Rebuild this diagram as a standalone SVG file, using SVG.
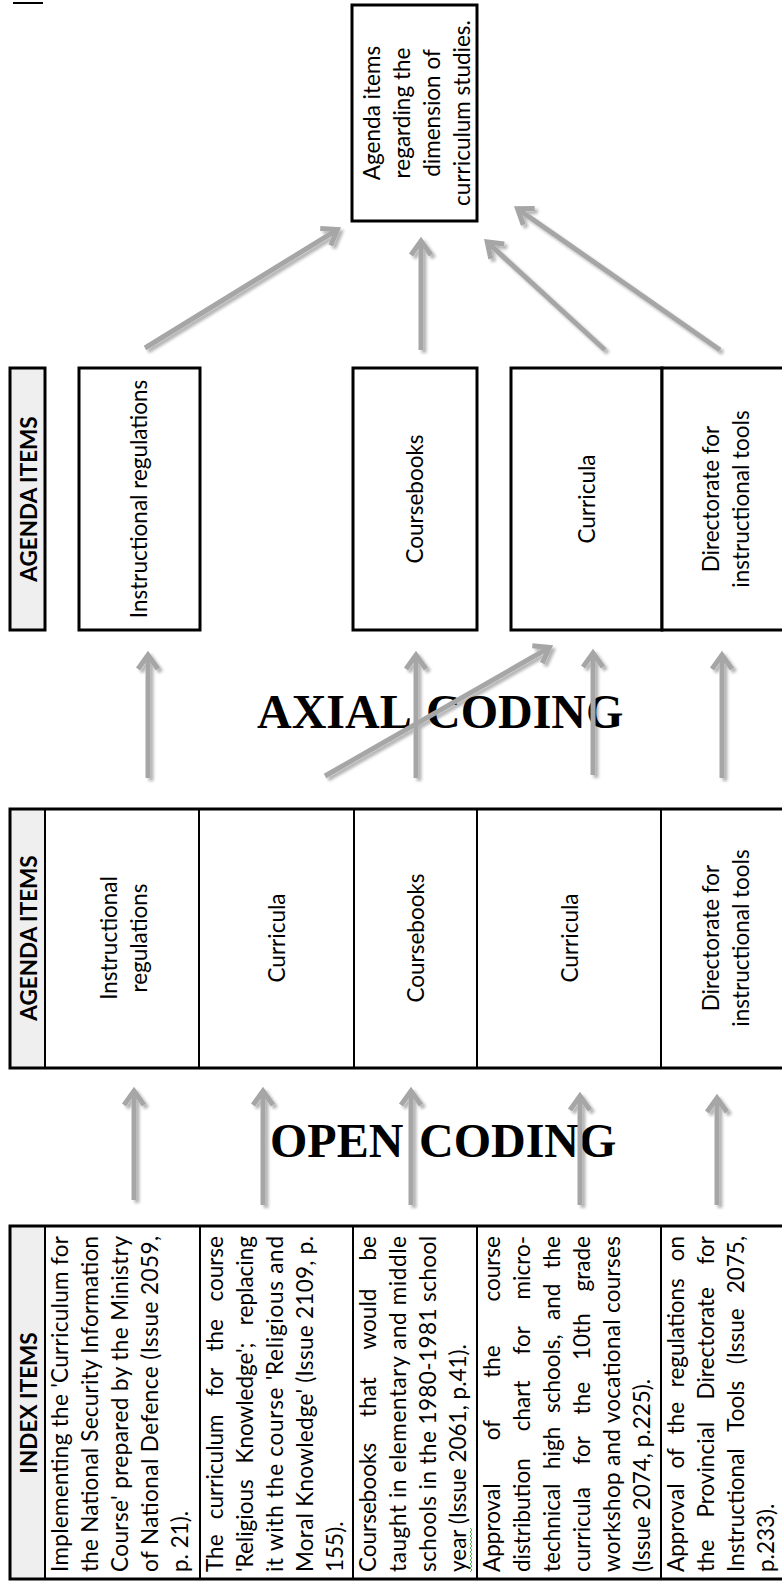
<svg xmlns="http://www.w3.org/2000/svg" width="782" height="1581" viewBox="0 0 782 1581">
<style>
.cell{fill:#ffffff;stroke:#000000;stroke-width:2}
.hdr{fill:#efefef;stroke:#000000;stroke-width:2}
.outer{fill:none;stroke:#000000;stroke-width:3}
.t{font-family:Lato,'Liberation Sans',Arial,sans-serif;font-size:22.5px;fill:#000000}
.b{font-weight:bold}
.m{text-anchor:middle}
.e{text-anchor:end}
.big{font-family:'Liberation Serif','Times New Roman',serif;font-weight:bold;font-size:48px;fill:#000000}
.arr{stroke:#a6a6a6;stroke-width:5;fill:none;marker-end:url(#ah)}
</style>
<defs>
<marker id="ah" markerUnits="userSpaceOnUse" viewBox="-20 -15 26 30" refX="0" refY="0" markerWidth="26" markerHeight="30" orient="auto" overflow="visible">
<path d="M-14,-10 L0,0 L-14,10" fill="none" stroke="#a6a6a6" stroke-width="5" stroke-linejoin="miter"/>
</marker>
<filter id="sh" filterUnits="userSpaceOnUse" x="0" y="0" width="782" height="1581">
<feGaussianBlur in="SourceAlpha" stdDeviation="1.8"/>
<feOffset dx="2.5" dy="2.5"/>
<feComponentTransfer><feFuncA type="linear" slope="0.3"/></feComponentTransfer>
<feMerge><feMergeNode/><feMergeNode in="SourceGraphic"/></feMerge>
</filter>
</defs>
<rect x="0" y="0" width="782" height="1581" fill="#ffffff"/>
<line x1="13" y1="3" x2="43" y2="3" stroke="#000000" stroke-width="2"/>

<!-- top node -->
<g id="n-dimension">
<rect class="cell" x="352" y="5" width="125" height="216" style="stroke-width:3"/>
<text class="t m" transform="translate(380,113) rotate(-90)">Agenda items</text>
<text class="t m" transform="translate(410,113) rotate(-90)">regarding the</text>
<text class="t m" transform="translate(440,113) rotate(-90)">dimension of</text>
<text class="t m" transform="translate(470,113) rotate(-90)">curriculum studies.</text>
</g>

<!-- axial coded agenda items -->
<g id="n-axial-header">
<rect class="hdr" x="10" y="368" width="35" height="262" style="stroke-width:3"/>
<text class="t b m" transform="translate(36.5,499) rotate(-90)">AGENDA ITEMS</text>
</g>
<g id="n-axial-instr">
<rect class="cell" x="79" y="368" width="121" height="262" style="stroke-width:3"/>
<text class="t m" transform="translate(147,499) rotate(-90)">Instructional regulations</text>
</g>
<g id="n-axial-course">
<rect class="cell" x="353" y="368" width="124" height="262" style="stroke-width:3"/>
<text class="t m" transform="translate(423,499) rotate(-90)">Coursebooks</text>
</g>
<g id="n-axial-curr">
<rect class="cell" x="511" y="368" width="151" height="262" style="stroke-width:3"/>
<text class="t m" transform="translate(595,499) rotate(-90)">Curricula</text>
</g>
<g id="n-axial-dir">
<rect class="cell" x="662" y="368" width="130" height="262" style="stroke-width:3"/>
<text class="t m" transform="translate(719,499) rotate(-90)">Directorate for</text>
<text class="t m" transform="translate(749,499) rotate(-90)">instructional tools</text>
</g>

<!-- open coded agenda items -->
<g id="n-open-header">
<rect class="hdr" x="10" y="809" width="35" height="259"/>
<text class="t b m" transform="translate(36.5,938) rotate(-90)">AGENDA ITEMS</text>
</g>
<g id="n-open-instr">
<rect class="cell" x="45" y="809" width="154" height="259"/>
<text class="t m" transform="translate(117,938) rotate(-90)">Instructional</text>
<text class="t m" transform="translate(147,938) rotate(-90)">regulations</text>
</g>
<g id="n-open-curr1">
<rect class="cell" x="199" y="809" width="155" height="259"/>
<text class="t m" transform="translate(285,938) rotate(-90)">Curricula</text>
</g>
<g id="n-open-course">
<rect class="cell" x="354" y="809" width="123" height="259"/>
<text class="t m" transform="translate(424,938) rotate(-90)">Coursebooks</text>
</g>
<g id="n-open-curr2">
<rect class="cell" x="477" y="809" width="184" height="259"/>
<text class="t m" transform="translate(577.5,938) rotate(-90)">Curricula</text>
</g>
<g id="n-open-dir">
<rect class="cell" x="661" y="809" width="131" height="259"/>
<text class="t m" transform="translate(719,938) rotate(-90)">Directorate for</text>
<text class="t m" transform="translate(749,938) rotate(-90)">instructional tools</text>
</g>
<rect class="outer" x="10" y="809" width="782" height="259"/>

<!-- index items -->
<g id="n-index-header">
<rect class="hdr" x="10" y="1226" width="35" height="353"/>
<text class="t b m" transform="translate(36.5,1403) rotate(-90)">INDEX ITEMS</text>
</g>
<g id="n-index-1">
<rect class="cell" x="45" y="1226" width="155" height="353"/>
<g transform="translate(0,1572) rotate(-90)">
<text class="t" x="0" y="68" textLength="336" lengthAdjust="spacing">Implementing the 'Curriculum for</text>
<text class="t" x="0" y="98" textLength="336" lengthAdjust="spacing">the National Security Information</text>
<text class="t" x="0" y="128" textLength="336" lengthAdjust="spacing">Course' prepared by the Ministry</text>
<text class="t" x="0" y="158" textLength="336" lengthAdjust="spacing">of National Defence (Issue 2059,</text>
<text class="t" x="0" y="188">p. 21).</text>
</g>
</g>
<g id="n-index-2">
<rect class="cell" x="200" y="1226" width="153" height="353"/>
<g transform="translate(0,1572) rotate(-90)">
<text class="t" y="223"><tspan x="0">The</tspan><tspan x="52.8">curriculum</tspan><tspan x="175.8">for</tspan><tspan x="220.5">the</tspan></text>
<text class="t e" x="336" y="223">course</text>
<text class="t" y="253"><tspan x="0">'Religious</tspan><tspan x="108.5">Knowledge';</tspan></text>
<text class="t e" x="336" y="253">replacing</text>
<text class="t" x="0" y="283" textLength="336" lengthAdjust="spacing">it with the course 'Religious and</text>
<text class="t" x="0" y="313" textLength="336" lengthAdjust="spacing">Moral Knowledge' (Issue 2109, p.</text>
<text class="t" x="0" y="343">155).</text>
</g>
</g>
<g id="n-index-3">
<rect class="cell" x="353" y="1226" width="124" height="353"/>
<g transform="translate(0,1572) rotate(-90)">
<text class="t" y="376"><tspan x="0">Coursebooks</tspan><tspan x="155.1">that</tspan><tspan x="222.6">would</tspan></text>
<text class="t e" x="336" y="376">be</text>
<text class="t" x="0" y="406" textLength="336" lengthAdjust="spacing">taught in elementary and middle</text>
<text class="t" x="0" y="436" textLength="336" lengthAdjust="spacing">schools in the 1980-1981 school</text>
<text class="t" x="0" y="466">year (Issue 2061, p.41).</text>
</g>
<polyline points="470,1572 472,1570 470,1568 472,1566 470,1564 472,1562 470,1560 472,1558 470,1556 472,1554 470,1552 472,1550 470,1548 472,1546 470,1544 472,1542 470,1540 472,1538 470,1536 472,1534 470,1532 472,1530 470,1528" fill="none" stroke="#4caf50" stroke-width="1"/>
</g>
<g id="n-index-4">
<rect class="cell" x="477" y="1226" width="184" height="353"/>
<g transform="translate(0,1572) rotate(-90)">
<text class="t" y="500"><tspan x="0">Approval</tspan><tspan x="131.8">of</tspan><tspan x="194.2">the</tspan></text>
<text class="t e" x="336" y="500">course</text>
<text class="t" y="530"><tspan x="0">distribution</tspan><tspan x="140.8">chart</tspan><tspan x="217.6">for</tspan></text>
<text class="t e" x="336" y="530">micro-</text>
<text class="t" y="560"><tspan x="0">technical</tspan><tspan x="103">high</tspan><tspan x="159">schools,</tspan><tspan x="252">and</tspan></text>
<text class="t e" x="336" y="560">the</text>
<text class="t" y="590"><tspan x="0">curricula</tspan><tspan x="107.6">for</tspan><tspan x="157.6">the</tspan><tspan x="212">10th</tspan></text>
<text class="t e" x="336" y="590">grade</text>
<text class="t" x="0" y="620" textLength="336" lengthAdjust="spacing">workshop and vocational courses</text>
<text class="t" x="0" y="650">(Issue 2074, p.225).</text>
</g>
</g>
<g id="n-index-5">
<rect class="cell" x="661" y="1226" width="131" height="353"/>
<g transform="translate(0,1572) rotate(-90)">
<text class="t" y="684"><tspan x="0">Approval</tspan><tspan x="103.5">of</tspan><tspan x="137.7">the</tspan><tspan x="184.7">regulations</tspan></text>
<text class="t e" x="336" y="684">on</text>
<text class="t" y="714"><tspan x="0">the</tspan><tspan x="54.4">Provincial</tspan><tspan x="172.5">Directorate</tspan></text>
<text class="t e" x="336" y="714">for</text>
<text class="t" y="744"><tspan x="0">Instructional</tspan><tspan x="140.2">Tools</tspan><tspan x="207.8">(Issue</tspan></text>
<text class="t e" x="336" y="744">2075,</text>
<text class="t" x="0" y="774">p.233).</text>
</g>
</g>
<rect class="outer" x="10" y="1226" width="782" height="353"/>

<!-- stage labels -->
<g id="labels">
<text class="big" y="728"><tspan x="257">AXIAL</tspan><tspan x="426">CODING</tspan></text>
<text class="big" y="1157"><tspan x="270">OPEN</tspan><tspan x="419">CODING</tspan></text>
</g>

<!-- connectors -->
<g id="connectors" filter="url(#sh)">
<line class="arr" x1="145" y1="348" x2="337.4" y2="229.6"/>
<line class="arr" x1="421" y1="350" x2="421" y2="241"/>
<line class="arr" x1="605" y1="350" x2="487.2" y2="242"/>
<line class="arr" x1="720" y1="350" x2="517.5" y2="208.7"/>
<line class="arr" x1="148" y1="778" x2="148" y2="655"/>
<line class="arr" x1="416" y1="778" x2="416" y2="655"/>
<line class="arr" x1="325" y1="776" x2="549.4" y2="647.5"/>
<line class="arr" x1="593" y1="775" x2="593" y2="653"/>
<line class="arr" x1="722" y1="778" x2="722" y2="655"/>
<line class="arr" x1="134" y1="1200" x2="134" y2="1091"/>
<line class="arr" x1="263" y1="1205" x2="263" y2="1091"/>
<line class="arr" x1="411" y1="1205" x2="411" y2="1091"/>
<line class="arr" x1="580" y1="1205" x2="580" y2="1096"/>
<line class="arr" x1="717" y1="1205" x2="717" y2="1098"/>
</g>
</svg>
